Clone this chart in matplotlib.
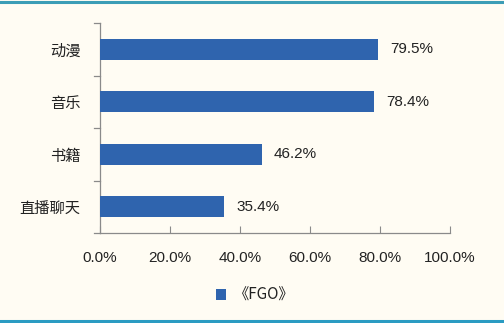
import matplotlib
matplotlib.use("Agg")
import matplotlib.pyplot as plt
from matplotlib.lines import Line2D
from matplotlib.patches import Patch

plt.rcParams['font.family'] = ['Noto Sans CJK SC', 'DejaVu Sans']

categories = ["动漫", "音乐", "书籍", "直播聊天"]
values = [79.5, 78.4, 46.2, 35.4]
series_name = "《FGO》"
xticks = [0, 20, 40, 60, 80, 100]

bg = "#FFFCF3"
bar_color = "#2F64AE"
axis_color = "#8A8A8A"
text_color = "#222222"

fig = plt.figure(figsize=(5.04, 3.23), dpi=100, facecolor=bg)
W, H = 504, 323
ax = fig.add_axes([100 / W, 1 - 233 / H, 350 / W, 210 / H], facecolor=bg)

n = len(categories)
ypos = list(range(n))[::-1]
ax.barh(ypos, values, height=0.4, color=bar_color, zorder=3)
for y, v in zip(ypos, values):
    ax.text(v + 3.5, y, f"{v:.1f}%", va="center", ha="left",
            fontsize=11, color=text_color, family="Liberation Sans")

ax.set_xlim(0, 100)
ax.set_ylim(-0.5, n - 0.5)
ax.set_xticks(xticks)
ax.set_xticklabels([f"{t:.1f}%" for t in xticks], fontsize=11,
                   color=text_color, family="Liberation Sans")
ax.set_yticks(ypos)
ax.set_yticklabels(categories, fontsize=11, color=text_color)
ax.tick_params(axis="y", length=0, pad=14)
ax.tick_params(axis="x", length=5, direction="in", color=axis_color, pad=13)

# category separator ticks on the value axis
for b in [i - 0.5 for i in range(n + 1)]:
    ax.add_line(Line2D([-0.016, 0], [b, b], transform=ax.get_yaxis_transform(),
                       color=axis_color, lw=0.9, clip_on=False))

for s in ["top", "right"]:
    ax.spines[s].set_visible(False)
for s in ["left", "bottom"]:
    ax.spines[s].set_color(axis_color)
    ax.spines[s].set_linewidth(0.9)

# legend below the plot
handle = Patch(facecolor=bar_color, edgecolor="none")
fig.legend([handle], [series_name], loc="center", bbox_to_anchor=(255 / W, 1 - 295 / H),
           frameon=False, fontsize=11, handlelength=0.7, handleheight=0.7,
           handletextpad=0.5, labelcolor=text_color)

# decorative rules at the top and bottom
fig.add_artist(Line2D([0, 1], [1 - 1.5 / H, 1 - 1.5 / H], color="#3C9DB6", lw=2.2))
fig.add_artist(Line2D([0, 1], [1 - 321 / H, 1 - 321 / H], color="#2A9BC2", lw=2.2))

fig.savefig("out.png", dpi=100, facecolor=bg)
